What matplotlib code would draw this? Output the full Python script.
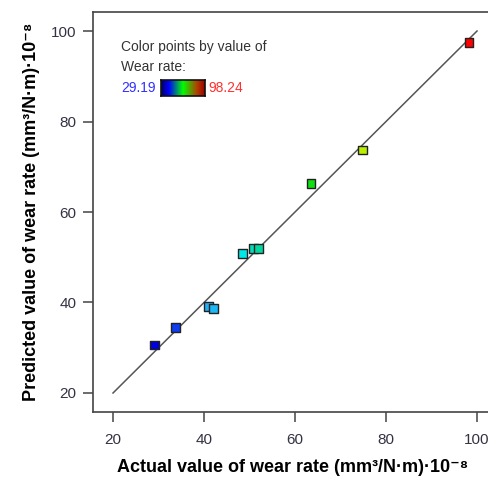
import matplotlib
matplotlib.use("Agg")
import matplotlib.pyplot as plt
from matplotlib.colors import LinearSegmentedColormap, Normalize
import numpy as np

plt.rcParams['font.family'] = ['Liberation Sans', 'DejaVu Sans']

actual = [29.19, 33.8, 40.9, 42.0, 48.4, 50.8, 51.9, 63.5, 74.9, 98.24]
predicted = [30.6, 34.4, 39.2, 38.7, 50.9, 52.0, 52.0, 66.3, 73.7, 97.5]
vmin, vmax = 29.19, 98.24
xticks = [20, 40, 60, 80, 100]
yticks = [20, 40, 60, 80, 100]

point_cmap = LinearSegmentedColormap.from_list('pts', [
    (0.0, '#0000e0'), (0.07, '#1040f0'), (0.17, '#20b0f8'), (0.28, '#00e8e8'),
    (0.33, '#00d8a0'), (0.5, '#10e010'), (0.66, '#b8f000'), (0.8, '#ffc000'),
    (1.0, '#ff0000')])
bar_cmap = LinearSegmentedColormap.from_list('bar', [
    (0.0, '#000060'), (0.18, '#0000ff'), (0.5, '#00ff00'), (0.82, '#b04000'), (1.0, '#a00000')])

fig = plt.figure(figsize=(4.88, 4.8), dpi=100)
ax = fig.add_axes([93/488, 1-412/480, 400/488, 400/480])
ax.set_xlim(15.6, 15.6 + 400/4.55)
ax.set_ylim(15.8, 104.2)

ax.plot([20, 100], [20, 100], color='#555555', lw=1.1, zorder=2)
ax.scatter(actual, predicted, c=actual, cmap=point_cmap, norm=Normalize(vmin, vmax),
           marker='s', s=40, edgecolors='#222222', linewidths=1.0, zorder=3)

ax.set_xticks(xticks)
ax.set_yticks(yticks)
ax.tick_params(direction='out', length=7, width=1.1, color='#444444',
               labelsize=11, labelcolor='#333344')
ax.tick_params(axis='x', pad=8)
ax.tick_params(axis='y', pad=5)
for s in ax.spines.values():
    s.set_color('#444444')
    s.set_linewidth(1.2)

ax.set_xlabel('Actual value of wear rate (mm³/N·m)·10⁻⁸',
              fontsize=13, fontweight='bold', labelpad=9)
ax.set_ylabel('Predicted value of wear rate (mm³/N·m)·10⁻⁸',
              fontsize=13, fontweight='bold', labelpad=8)

# legend-like annotation
fig.text(121/488, 1-47/480, 'Color points by value of', fontsize=10, color='#333333', va='center')
fig.text(121/488, 1-67/480, 'Wear rate:', fontsize=10, color='#333333', va='center')
fig.text(121/488, 1-88/480, f'{vmin:.2f}', fontsize=10, color='#3030ff', va='center')
fig.text(208/488, 1-88/480, f'{vmax:.2f}', fontsize=10, color='#ff3030', va='center')
cax = fig.add_axes([161/488, 1-96/480, 44/488, 16/480])
cax.imshow(np.linspace(0, 1, 256)[None, :], aspect='auto', cmap=bar_cmap)
cax.set_xticks([]); cax.set_yticks([])
for s in cax.spines.values():
    s.set_linewidth(1.2)
    s.set_color('#111111')

fig.savefig('out.png', dpi=100)
